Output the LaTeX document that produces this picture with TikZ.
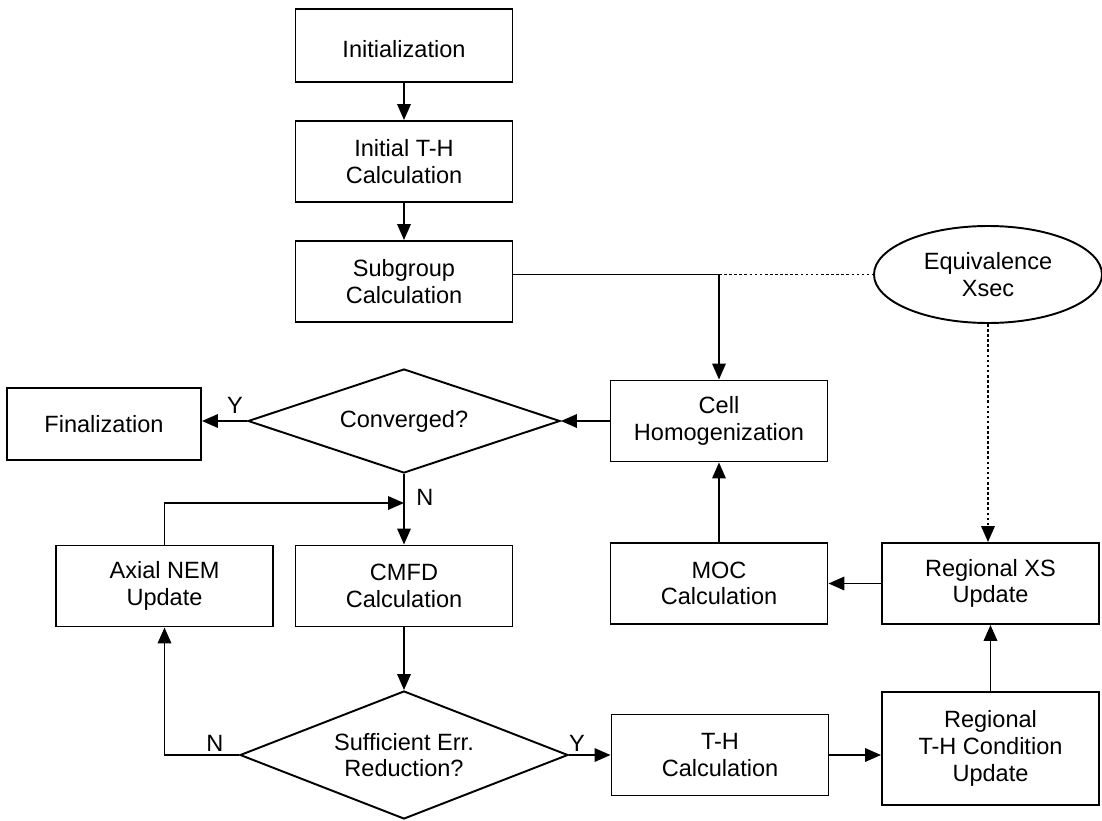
\documentclass[tikz,border=0pt]{standalone}
\usepackage{fontspec}
\setmainfont{Liberation Sans}
\usetikzlibrary{shapes.geometric,arrows.meta}

\begin{document}
\begin{tikzpicture}[line width=1.1pt,font=\fontsize{13.4pt}{15.2pt}\selectfont,
					stepbox/.style={shape=rectangle, draw, align=center, inner sep=0, minimum width=4.34cm, minimum height=1.62cm},
					decision/.style={shape=diamond, draw, align=center, inner sep=0, aspect=4},
					arr/.style={-{Triangle[length=0.32cm,width=0.27cm]}},
					dots/.style={dash pattern=on 1.5pt off 1.4pt}
					]
	\useasboundingbox (0,0) rectangle (22.04,-16.42);
	%nodes
	\node[stepbox, minimum height=1.46cm, text height=1.4em, text depth=0pt] (init) at (8.08,-0.91) {Initialization}; %start
	\node[stepbox] (initth) at (8.08,-3.23) {Initial T-H\\Calculation}; %initial T-H
	\node[stepbox] (sub) at (8.08,-5.63) {Subgroup\\Calculation}; %subgroup
	\node[ellipse, draw, align=center, inner sep=0, minimum width=4.56cm, minimum height=1.94cm] (eqx) at (19.76,-5.49) {Equivalence\\Xsec}; %equivalence xs
	\node[stepbox] (cell) at (14.38,-8.42) {Cell\\Homogenization}; %homogenization
	\node[decision, minimum width=6.24cm, minimum height=2.08cm] (conv) at (8.08,-8.42) {Converged?}; %outer check
	\node[stepbox, minimum width=3.88cm, minimum height=1.44cm] (fin) at (2.08,-8.48) {Finalization}; %end
	\node[stepbox] (axial) at (3.29,-11.72) {Axial NEM\\Update}; %axial
	\node[stepbox] (cmfd) at (8.08,-11.72) {CMFD\\Calculation}; %cmfd
	\node[stepbox] (moc) at (14.38,-11.67) {MOC\\Calculation}; %moc
	\node[stepbox] (regxs) at (19.81,-11.67) {Regional XS\\Update}; %regional xs
	\node[decision, minimum width=6.56cm, minimum height=2.56cm] (suff) at (8.08,-15.10) {Sufficient Err.\\Reduction?}; %inner check
	\node[stepbox] (th) at (14.40,-15.10) {T-H\\Calculation}; %T-H
	\node[stepbox, minimum height=2.26cm] (regth) at (19.81,-14.97) {Regional\\T-H Condition\\Update}; %regional T-H

	%branch labels
	\node (yconv) at (4.70,-8.10) {Y}; %converged yes
	\node (nconv) at (8.50,-9.94) {N}; %converged no
	\node (nsuff) at (4.30,-14.86) {N}; %reduction no
	\node (ysuff) at (11.54,-14.86) {Y}; %reduction yes

	%helper points
	\coordinate (jn) at (cell.north |- eqx.west); %split above cell
	\coordinate (mrg) at (8.08,-10.06); %merge above cmfd

	%connectors
	\draw[arr] (init) -- (initth);
	\draw[arr] (initth) -- (sub);
	\draw (sub.east |- jn) -- (jn);
	\draw[dots] (jn) -- (eqx.west);
	\draw[arr] (jn) -- (cell.north);
	\draw[arr] (cell.west) -- (conv.east);
	\draw[arr] (conv.west) -- (conv.west -| fin.east);
	\draw[arr] (conv.south) -- (cmfd.north);
	\draw[arr] (axial.north) |- (mrg);
	\draw[arr] (cmfd.south) -- (suff.north);
	\draw[arr] (suff.west) -| (axial.south);
	\draw[arr] (suff.east) -- (th.west);
	\draw[arr] (th.east) -- (th.east -| regth.west);
	\draw[arr] (regth.north) -- (regxs.south);
	\draw[arr] (regxs.west) -- (moc.east);
	\draw[arr] (moc.north) -- (cell.south);
	\draw[arr,dots] (eqx.south) -- (eqx.south |- regxs.north);
\end{tikzpicture}
\end{document}
